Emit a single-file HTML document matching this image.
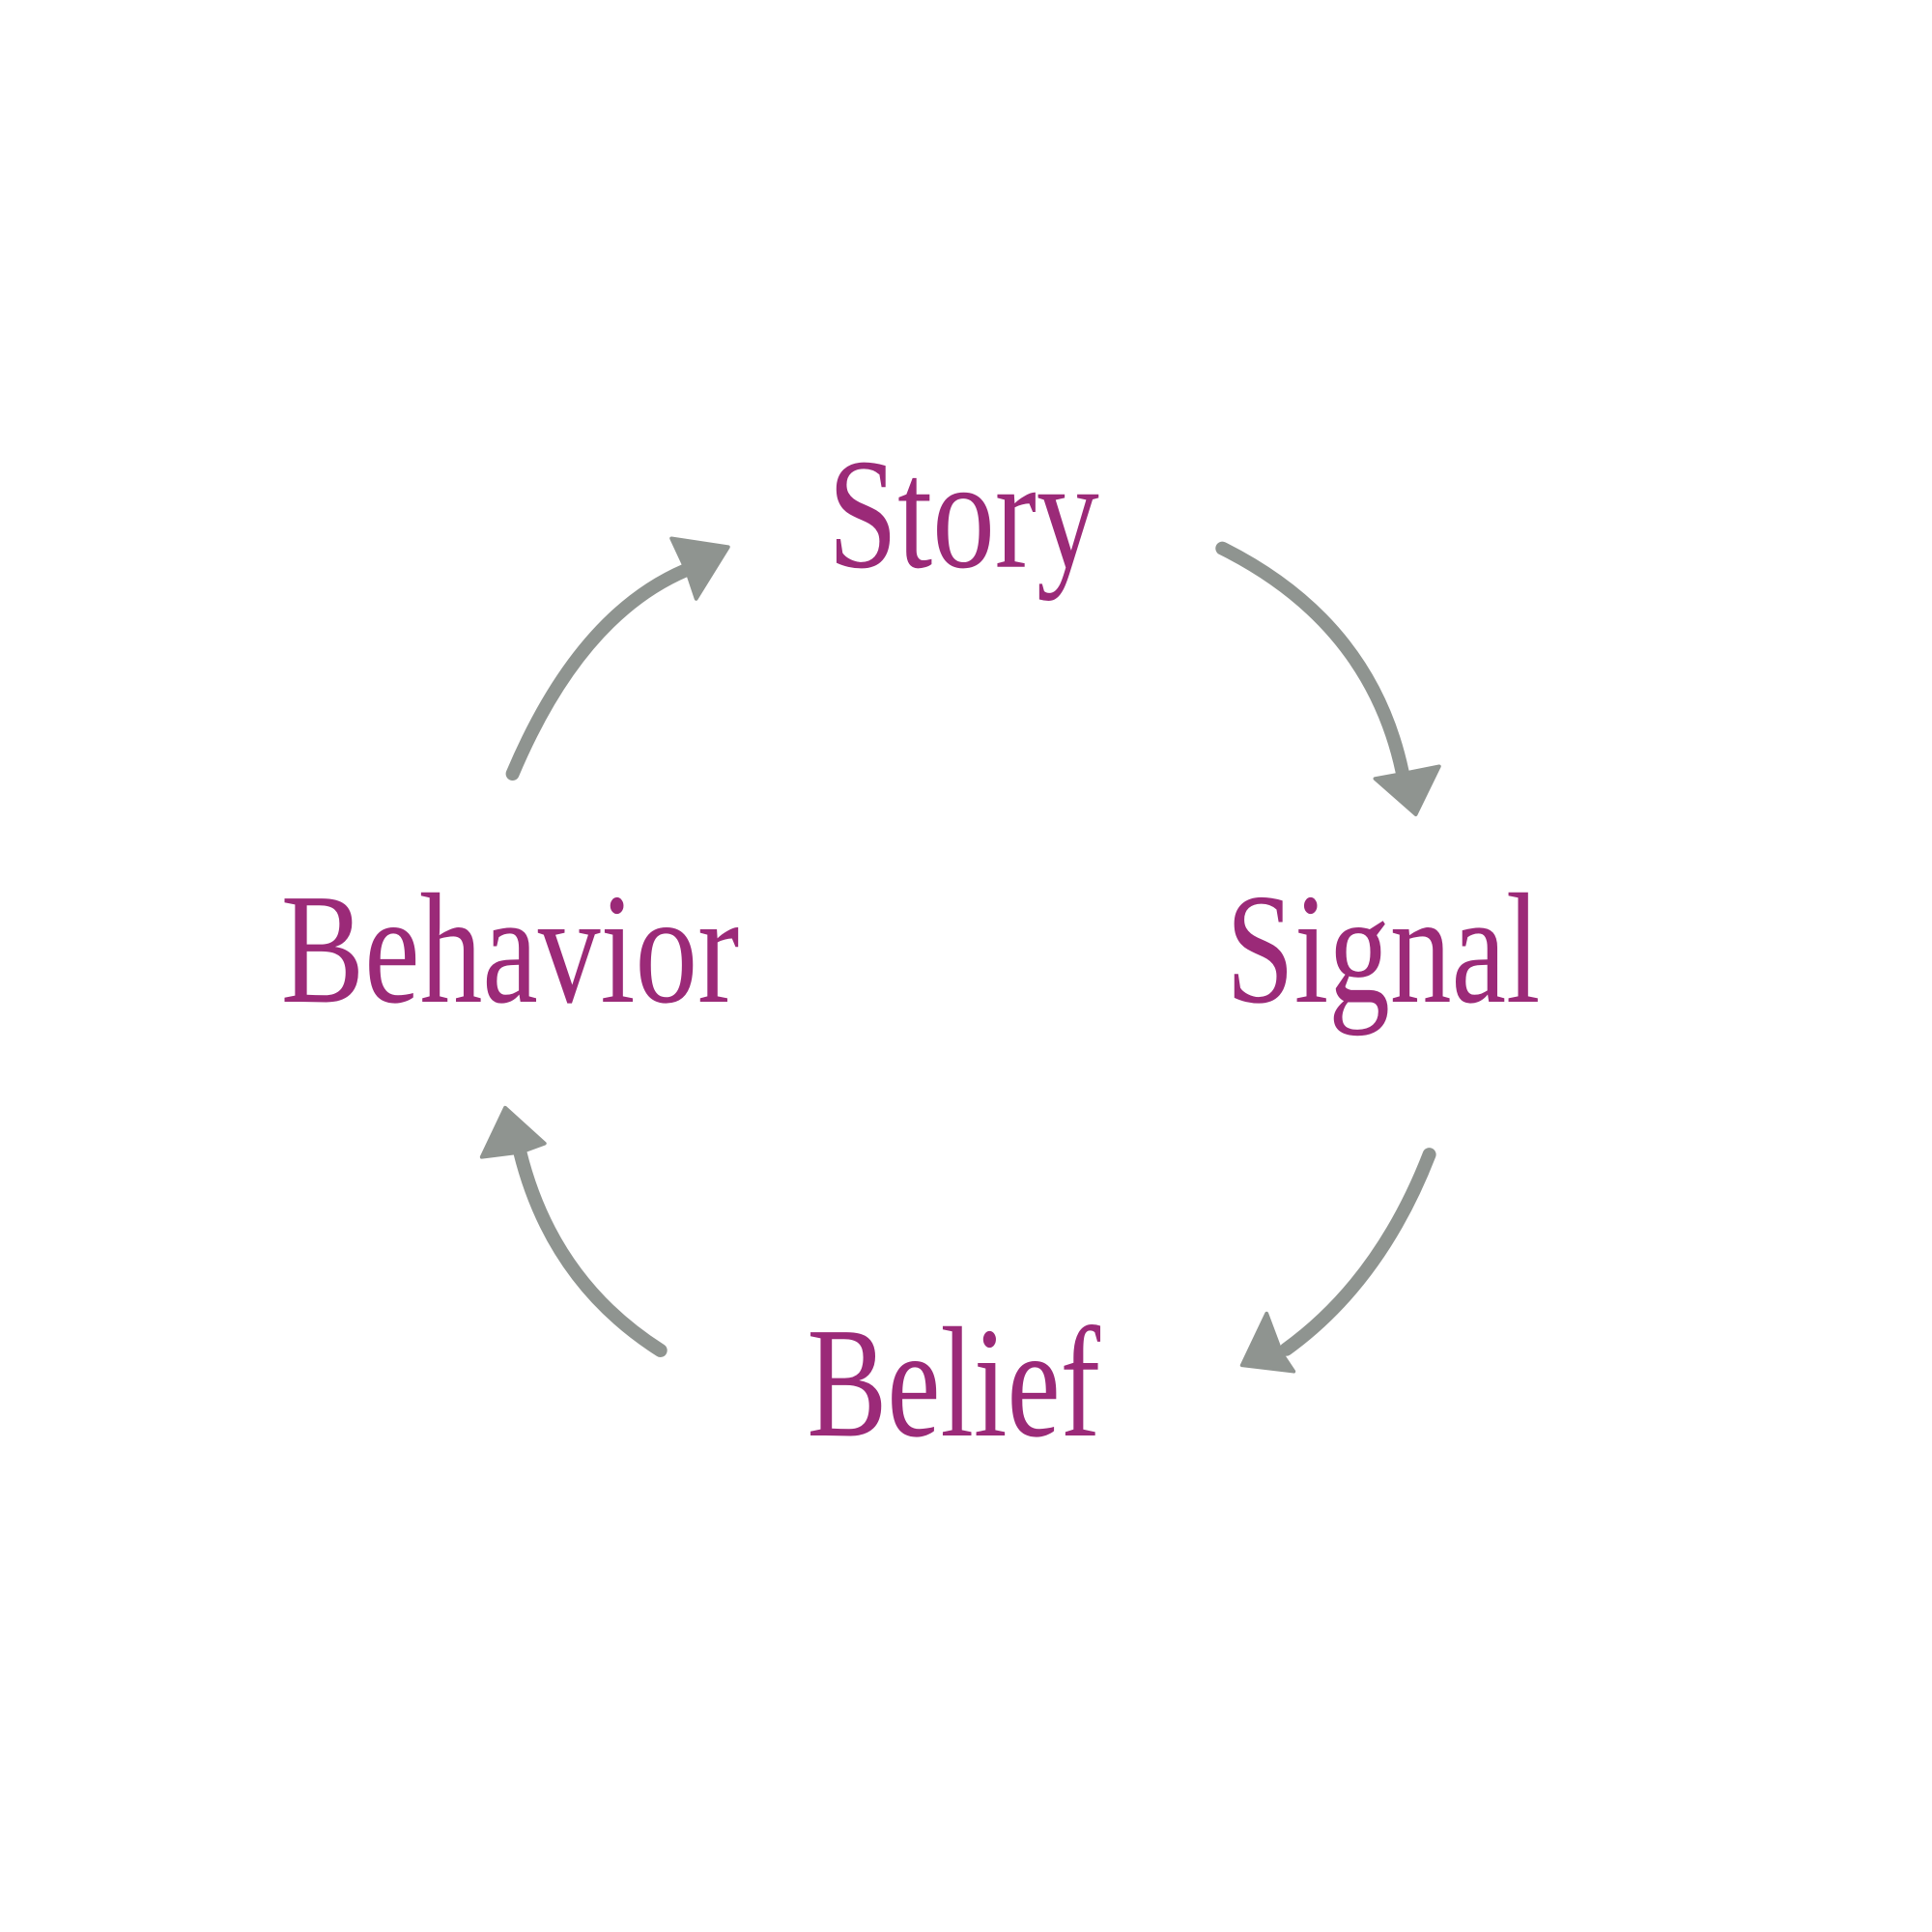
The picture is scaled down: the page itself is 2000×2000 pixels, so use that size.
<!DOCTYPE html>
<html><head><meta charset="utf-8"><style>
html,body{margin:0;padding:0;background:#fff;}
svg{display:block;}
text{font-family:"Liberation Serif",serif;fill:#9b2a78;font-size:128px;}
</style></head><body>
<svg width="2000" height="2000" viewBox="0 0 1568 1568" xmlns="http://www.w3.org/2000/svg">
<rect width="1568" height="1568" fill="#fff"/>
<text x="672" y="460" textLength="220" lengthAdjust="spacingAndGlyphs">Story</text>
<text x="228" y="813" textLength="372" lengthAdjust="spacingAndGlyphs">Behavior</text>
<text x="995" y="813" textLength="255" lengthAdjust="spacingAndGlyphs">Signal</text>
<text x="655" y="1165" textLength="238" lengthAdjust="spacingAndGlyphs">Belief</text>
<g fill="none" stroke="#8f9490" stroke-width="11" stroke-linecap="round">
<path d="M416,628 Q470,500 556,463"/>
<path d="M992,445 Q1112,505 1138,626"/>
<path d="M1160,937 Q1120,1040 1044,1095"/>
<path d="M536,1096 Q448,1040 422,935"/>
</g>
<g fill="#8f9490" stroke="#8f9490" stroke-width="3" stroke-linejoin="round">
<polygon points="545,437 591,444 565,486 558,465"/>
<polygon points="1116,632 1149,661 1168,622 1138,628"/>
<polygon points="1028,1066 1008,1108 1050,1113 1040,1098"/>
<polygon points="391,939 410,899 442,928 423,935"/>
</g>
</svg>
</body></html>
